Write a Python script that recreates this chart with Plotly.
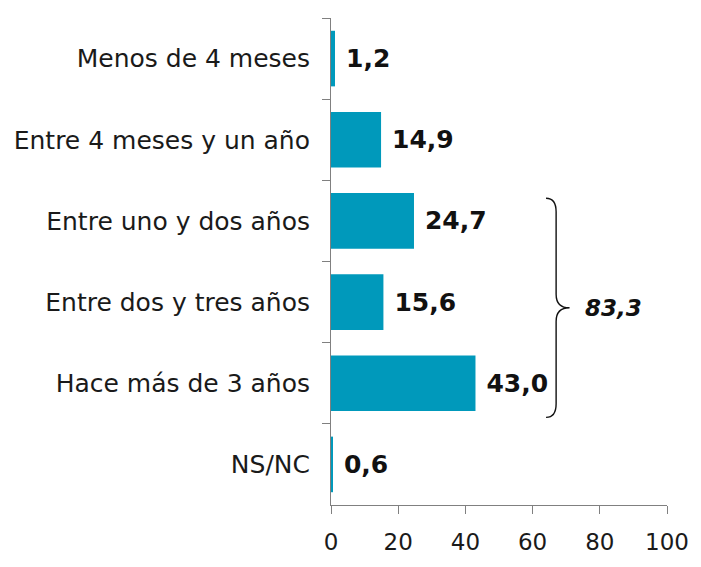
import plotly.graph_objects as go

categories = ["Menos de 4 meses", "Entre 4 meses y un año", "Entre uno y dos años",
              "Entre dos y tres años", "Hace más de 3 años", "NS/NC"]
values = [1.2, 14.9, 24.7, 15.6, 43.0, 0.6]
bracket_label = "83,3"
x_ticks = [0, 20, 40, 60, 80, 100]

BAR = "#0099BB"
FONT = "DejaVu Sans"

labels = ["\u00a0<b>" + f"{v:.1f}".replace(".", ",") + "</b>" for v in values]

fig = go.Figure(go.Bar(
    x=values, y=categories, orientation="h",
    marker=dict(color=BAR, line=dict(width=0)),
    text=labels, textposition="outside", constraintext="none", cliponaxis=False,
    textfont=dict(family=FONT, size=25, color="#111111"),
    hoverinfo="skip",
))

W, H = 701, 567
ml, mr, mt, mb = 331, 24, 18, 44
fig.update_layout(
    width=W, height=H,
    margin=dict(l=ml, r=mr, t=mt, b=mb, pad=0),
    plot_bgcolor="white", paper_bgcolor="white",
    bargap=0.315, showlegend=False,
    font=dict(family=FONT, size=24, color="#1a1a1a"),
    xaxis=dict(range=[0, 100], tickvals=x_ticks, showgrid=False, zeroline=False,
               showline=True, linecolor="#808080", linewidth=1,
               ticks="outside", ticklen=8, tickcolor="#808080",
               ticklabelstandoff=8,
               tickfont=dict(size=23, color="#1a1a1a")),
    yaxis=dict(type="category", categoryorder="array", categoryarray=categories,
               autorange="reversed", showgrid=False, zeroline=False,
               showline=True, linecolor="#808080", linewidth=1,
               ticks="outside", ticklen=8, tickcolor="#808080", tickson="boundaries",
               ticklabelstandoff=15,
               tickfont=dict(size=25, color="#1a1a1a")),
)

# curly bracket grouping the last three time categories (indices 2..4)
n = len(categories)
top = 1 - (2 + 0.22) / n
bot = 1 - (4 + 0.92) / n
mid = (top + bot) / 2
d = 0.028
xs, xv, xt = 64, 67, 71
path = (f"M {xs},{top} Q {xv},{top} {xv},{top - d} L {xv},{mid + d} "
        f"Q {xv},{mid} {xt},{mid} Q {xv},{mid} {xv},{mid - d} "
        f"L {xv},{bot + d} Q {xv},{bot} {xs},{bot}")
fig.add_shape(type="path", path=path, xref="x", yref="paper",
              line=dict(color="#111111", width=1.4))
fig.add_annotation(x=75, y=mid, xref="x", yref="paper", xanchor="left",
                   yanchor="middle", showarrow=False,
                   text="<b><i>" + bracket_label + "</i></b>",
                   font=dict(family=FONT, size=23, color="#111111"))

fig.write_html("out.html",
               config={"displayModeBar": False, "responsive": False},
               post_script="document.body.style.margin='0';document.body.style.overflow='hidden';")
